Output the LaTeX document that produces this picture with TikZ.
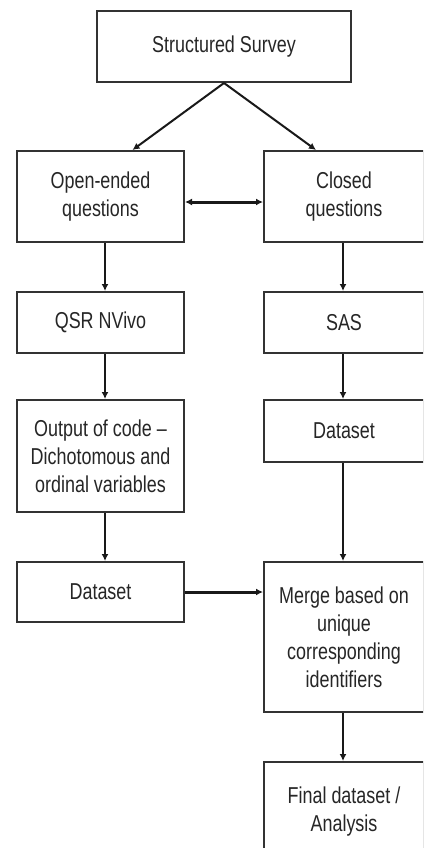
\documentclass[tikz,border=0pt]{standalone}
\usepackage{fontspec}
\setmainfont{Liberation Sans}[FakeStretch=0.78]
\usetikzlibrary{arrows.meta}
\begin{document}
\begin{tikzpicture}[x=1pt,y=-1pt,
  box/.style={draw=black!80,line width=2pt,fill=white,align=center,
    inner sep=0pt,font=\fontsize{23}{28}\selectfont,text=black!85},
  flow/.style={draw=black!90,line width=2pt,-{Latex[length=7pt,width=7pt]}},
  both flow/.style={draw=black!90,line width=3pt,{Latex[length=7pt,width=7pt]}-{Latex[length=7pt,width=7pt]}},
  wide flow/.style={draw=black!90,line width=3pt,-{Latex[length=7pt,width=7pt]}}]
\useasboundingbox (0,0) rectangle (423,848);
\begin{scope}
\clip (0,0) rectangle (423,848);
% top box
\node[box,minimum width=254pt,minimum height=71pt] (survey) at (224,46.5) {Structured Survey};
% left column
\node[box,minimum width=167pt,minimum height=91pt] (open) at (100.5,196.5) {Open-ended\\questions};
\node[box,minimum width=167pt,minimum height=61pt] (qsr) at (100.5,322.5) {QSR NVivo};
\node[box,minimum width=167pt,minimum height=112pt] (code) at (100.5,456) {Output of code --\\Dichotomous and\\ordinal variables};
\node[box,minimum width=167pt,minimum height=60pt] (dsl) at (100.5,592) {Dataset};
% right column
\node[box,minimum width=160pt,minimum height=91pt] (closed) at (344,196.5) {Closed\\questions};
\node[box,minimum width=160pt,minimum height=61pt] (sas) at (344,322.5) {SAS};
\node[box,minimum width=160pt,minimum height=62pt] (dsr) at (344,431) {Dataset};
\node[box,minimum width=160pt,minimum height=150pt] (merge) at (344,637) {Merge based on\\unique\\corresponding\\identifiers};
\node[box,minimum width=160pt,minimum height=100pt] (final) at (344,812) {Final dataset /\\Analysis};
% connectors
\draw[flow] (survey.south) -- ([xshift=32pt]open.north);
\draw[flow] (survey.south) -- ([xshift=-28pt]closed.north);
\draw[both flow] ([yshift=-5.5pt]open.east) -- ([yshift=-5.5pt]closed.west);
\draw[flow] ([xshift=4.5pt]open.south) -- ([xshift=4.5pt]qsr.north);
\draw[flow] ([xshift=4.5pt]qsr.south) -- ([xshift=4.5pt]code.north);
\draw[flow] ([xshift=4.5pt]code.south) -- ([xshift=4.5pt]dsl.north);
\draw[wide flow] (dsl.east) -- (dsl.east -| merge.west);
\draw[flow] ([xshift=-1pt]closed.south) -- ([xshift=-1pt]sas.north);
\draw[flow] ([xshift=-1pt]sas.south) -- ([xshift=-1pt]dsr.north);
\draw[flow] ([xshift=-1pt]dsr.south) -- ([xshift=-1pt]merge.north);
\draw[flow] ([xshift=-1pt]merge.south) -- ([xshift=-1pt]final.north);
\end{scope}
\end{tikzpicture}
\end{document}
